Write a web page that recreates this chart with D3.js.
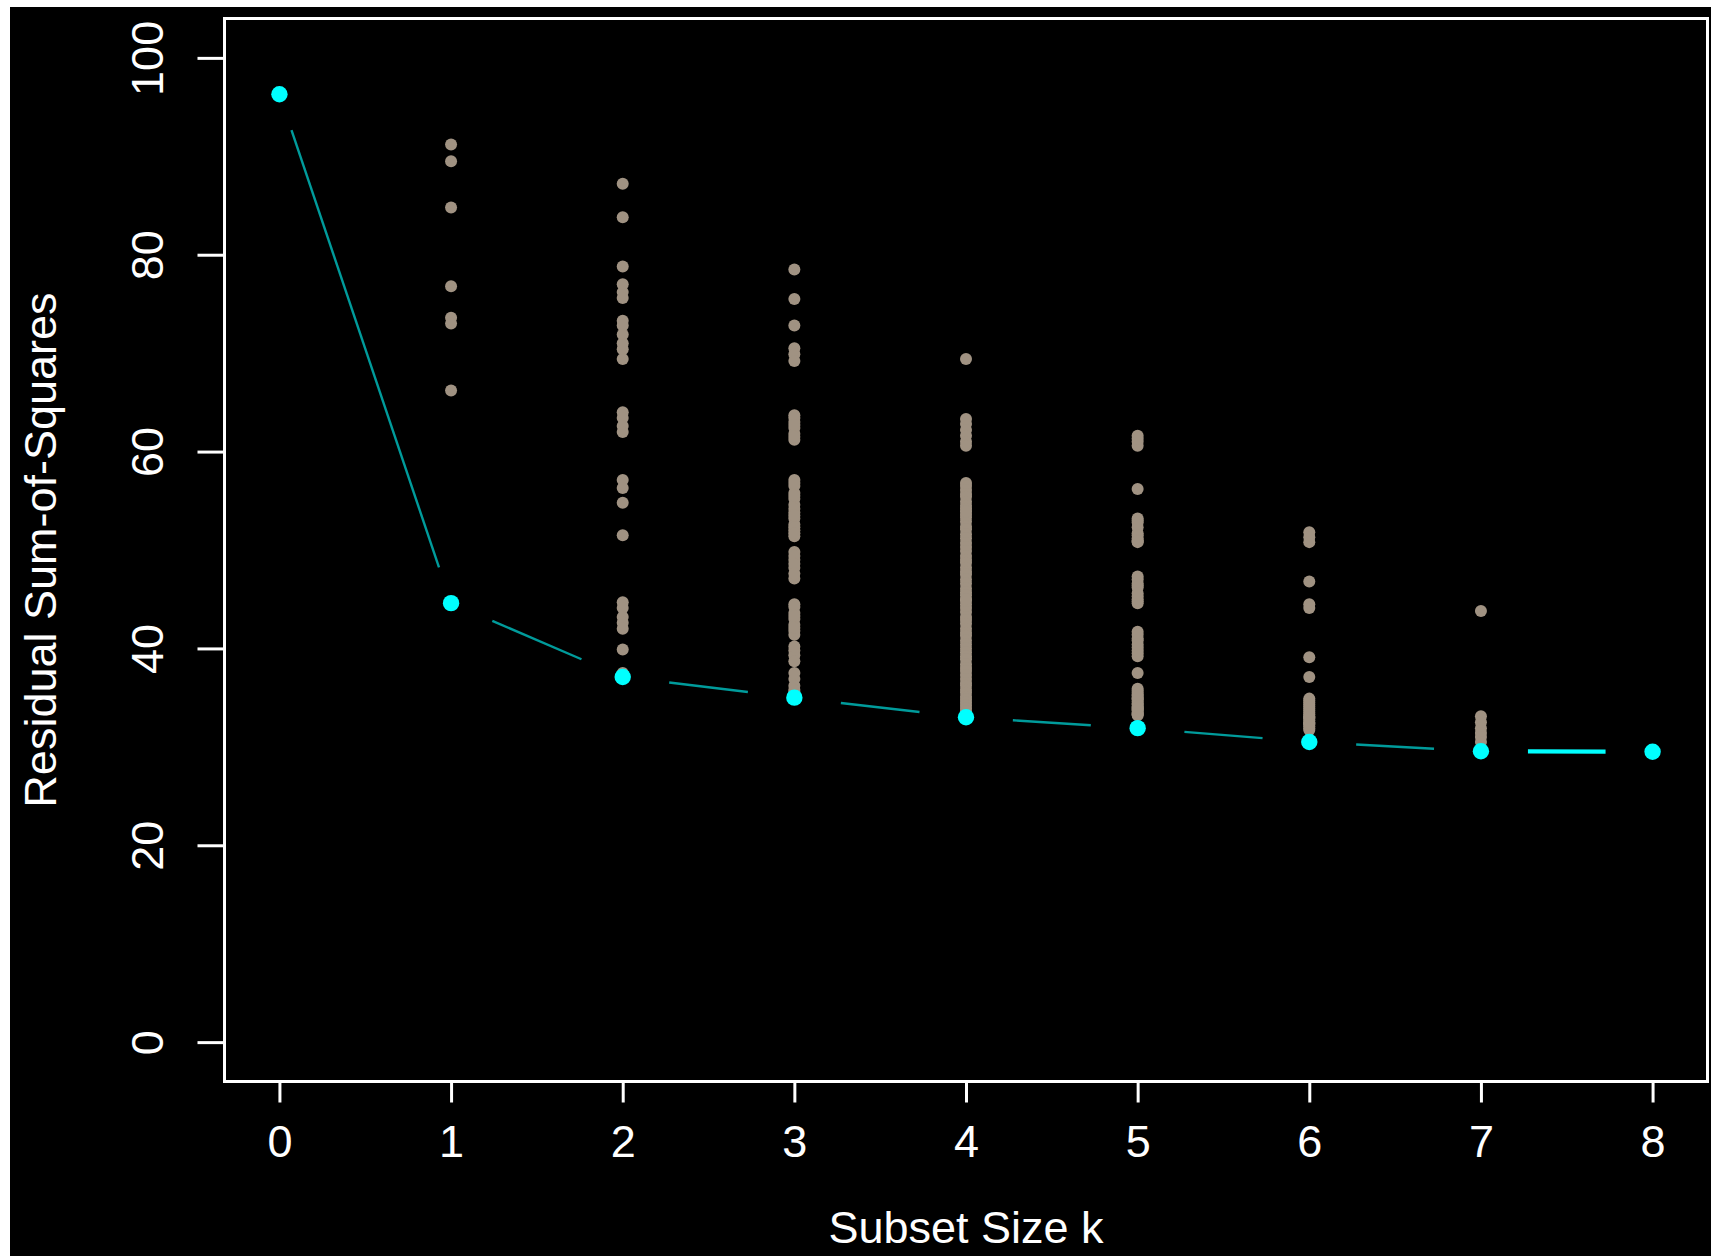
<!DOCTYPE html>
<html>
<head>
<meta charset="utf-8">
<script src="https://cdn.jsdelivr.net/npm/d3@7"></script>
<style>
  html, body { margin: 0; padding: 0; background: #fff; }
  svg { display: block; }
  text { font-family: "Liberation Sans", Arial, sans-serif; fill: #fff; }
</style>
</head>
<body>
<svg id="chart" width="1711" height="1256"></svg>
<script>
// subset sizes on the x axis
var subsetSizes = [0, 1, 2, 3, 4, 5, 6, 7, 8];
var xTicks = [0, 1, 2, 3, 4, 5, 6, 7, 8];
var yTicks = [0, 20, 40, 60, 80, 100];

// residual sum-of-squares for every subset of each size
var rssK0 = [96.3];
var rssK1 = [91.2, 89.5, 84.8, 76.8, 73.6, 73.0, 66.2, 44.6];
var rssK2 = [87.2, 83.8, 78.8, 77.0, 76.2, 75.6, 73.3, 72.8, 71.9, 71.0, 70.4, 69.4,
             64.0, 63.4, 62.6, 62.0, 57.1, 56.3, 54.8, 51.5, 44.7, 44.1, 43.2, 42.6,
             42.0, 39.9, 37.5, 37.1];
var rssK3 = [78.5, 75.5, 72.8, 70.5, 69.9, 69.2, 63.7, 63.0, 62.4, 61.8, 61.2,
             57.1, 56.5, 55.8, 55.2, 54.6, 53.8, 53.2, 52.6, 52.0, 51.4,
             49.8, 49.0, 48.2, 47.1, 44.2, 43.6, 43.0, 42.4, 41.8, 41.4,
             39.8, 39.3, 38.7, 36.9, 36.2, 35.6, 35.0,
             63.4, 62.7, 61.5, 56.8, 55.5, 54.2, 53.5, 52.3, 51.7, 49.4, 48.6, 47.6,
             44.5, 43.3, 42.1, 40.2, 37.5, 35.8];
var rssK4 = [69.4, 63.3, 62.8, 62.2, 61.6, 61.0, 60.6,
             56.8, 56.5, 56.1, 55.7, 55.4, 54.9, 54.5, 54.2, 53.6, 53.3, 52.9, 52.4,
             52.1, 51.6, 51.2, 50.7, 50.3, 49.9, 49.4, 49.0, 48.7, 48.2, 47.8, 47.5,
             47.0, 46.6, 46.1, 45.7, 45.4, 44.9, 44.5, 44.1, 43.7, 43.2, 42.9, 42.5,
             42.0, 41.6, 41.3, 40.8, 40.4, 40.0, 39.6, 39.2, 38.9, 38.4, 38.0, 37.7,
             37.3, 36.9, 36.5, 36.2, 35.8, 35.5, 35.1, 34.8, 34.5, 34.2, 33.9, 33.6,
             53.9, 45.0, 33.0];
var rssK5 = [61.6, 61.0, 60.6, 56.2, 53.0, 52.3, 51.7, 51.2, 50.8,
             47.3, 46.6, 45.3, 44.6, 41.7, 41.0, 40.1, 39.2, 37.5,
             35.7, 35.2, 34.8, 34.3, 33.9, 33.5, 33.2, 31.9,
             61.3, 52.8, 51.5, 51.0, 47.0, 46.4, 45.0, 44.8, 41.4, 40.8, 39.5, 39.8,
             35.5, 35.0, 34.6, 34.1, 33.7, 33.4, 35.9, 34.9, 34.4, 33.8, 33.3, 35.3,
             34.0, 53.2, 50.9, 46.2, 45.6, 40.4];
var rssK6 = [51.8, 51.3, 50.8, 46.8, 44.5, 44.1, 39.1, 37.1,
             34.7, 34.3, 33.9, 33.5, 33.1, 32.7, 32.3, 31.9, 30.5,
             34.5, 34.1, 33.7, 33.3, 32.9, 32.5, 32.1, 31.7, 34.9, 33.0, 32.4];
var rssK7 = [43.8, 33.1, 32.5, 31.9, 31.4, 31.0, 30.5, 29.55];
var rssK8 = [29.5];

var rssBySize = [rssK0, rssK1, rssK2, rssK3, rssK4, rssK5, rssK6, rssK7, rssK8];

var svg = d3.select("#chart");
var W = 1711, H = 1256;

// black plotting device area
svg.append("rect")
	.attr("x", 10).attr("y", 7)
	.attr("width", W - 10).attr("height", H - 7)
	.attr("fill", "#000");

var box = { left: 224.5, right: 1707.5, top: 18.5, bottom: 1081.5 };

// R style 4% axis extension
var x = d3.scaleLinear().domain([-0.32, 8.32]).range([box.left, box.right]);
var y = d3.scaleLinear().domain([-4, 104]).range([box.bottom, box.top]);

var allPoints = [];
var bestPoints = [];
subsetSizes.forEach(function(k, i) {
	var vals = rssBySize[i];
	vals.forEach(function(v) { allPoints.push({ k: k, rss: v }); });
	bestPoints.push({ k: k, rss: d3.min(vals) });
});

// gray points: every subset
svg.append("g").selectAll("circle")
	.data(allPoints)
	.enter().append("circle")
	.attr("cx", function(d) { return x(d.k); })
	.attr("cy", function(d) { return y(d.rss); })
	.attr("r", 6)
	.attr("fill", "#a09282");

// best-subset line, type="b" with gaps round the points
var gapX = 47, gapY = 37;
var segs = [];
for (var i = 1; i < bestPoints.length; i++) {
	var x0 = x(bestPoints[i - 1].k), y0 = y(bestPoints[i - 1].rss);
	var x1 = x(bestPoints[i].k), y1 = y(bestPoints[i].rss);
	var dx = x1 - x0, dy = y1 - y0;
	var len = Math.sqrt(dx * dx + dy * dy);
	var ux = dx / len, uy = dy / len;
	var t = 1 / Math.sqrt((ux / gapX) * (ux / gapX) + (uy / gapY) * (uy / gapY));
	segs.push({
		x1: x0 + ux * t, y1: y0 + uy * t,
		x2: x1 - ux * t, y2: y1 - uy * t,
		flat: Math.abs(dy) < 1.5
	});
}
svg.append("g").selectAll("line")
	.data(segs)
	.enter().append("line")
	.attr("x1", function(d) { return d.x1; })
	.attr("y1", function(d) { return d.y1; })
	.attr("x2", function(d) { return d.x2; })
	.attr("y2", function(d) { return d.y2; })
	.attr("stroke", function(d) { return d.flat ? "#00ffff" : "#009b9b"; })
	.attr("stroke-width", function(d) { return d.flat ? 4.3 : 2.4; });

// cyan points: best subset of each size
svg.append("g").selectAll("circle")
	.data(bestPoints)
	.enter().append("circle")
	.attr("cx", function(d) { return x(d.k); })
	.attr("cy", function(d) { return y(d.rss); })
	.attr("r", 8.2)
	.attr("fill", "#00ffff");

// axes
var yAxis = svg.append("g")
	.attr("transform", "translate(" + box.left + ",0)")
	.call(d3.axisLeft(y).tickValues(yTicks).tickSize(27).tickFormat(d3.format("d")));
var xAxis = svg.append("g")
	.attr("transform", "translate(0," + box.bottom + ")")
	.call(d3.axisBottom(x).tickValues(xTicks).tickSize(21).tickFormat(d3.format("d")));

[xAxis, yAxis].forEach(function(ax) {
	ax.select(".domain").remove();
	ax.selectAll(".tick line").attr("stroke", "#fff").attr("stroke-width", 3);
	ax.selectAll(".tick text")
		.attr("fill", "#fff")
		.style("font-size", "45px")
		.style("font-family", "'Liberation Sans', Arial, sans-serif");
});
yAxis.selectAll(".tick text")
	.attr("x", null).attr("dy", null)
	.attr("text-anchor", "middle")
	.attr("transform", "translate(-61.5,0) rotate(-90)");
xAxis.selectAll(".tick text")
	.attr("y", 75.5).attr("dy", null)
	.attr("text-anchor", "middle");

// plot frame
svg.append("rect")
	.attr("x", box.left).attr("y", box.top)
	.attr("width", box.right - box.left).attr("height", box.bottom - box.top)
	.attr("fill", "none")
	.attr("stroke", "#fff")
	.attr("stroke-width", 3);

// titles
svg.append("text")
	.attr("x", (box.left + box.right) / 2)
	.attr("y", 1243)
	.attr("text-anchor", "middle")
	.style("font-size", "45px")
	.text("Subset Size k");

svg.append("text")
	.attr("transform", "translate(56," + (box.top + box.bottom) / 2 + ") rotate(-90)")
	.attr("text-anchor", "middle")
	.style("font-size", "45px")
	.text("Residual Sum-of-Squares");
</script>
</body>
</html>
